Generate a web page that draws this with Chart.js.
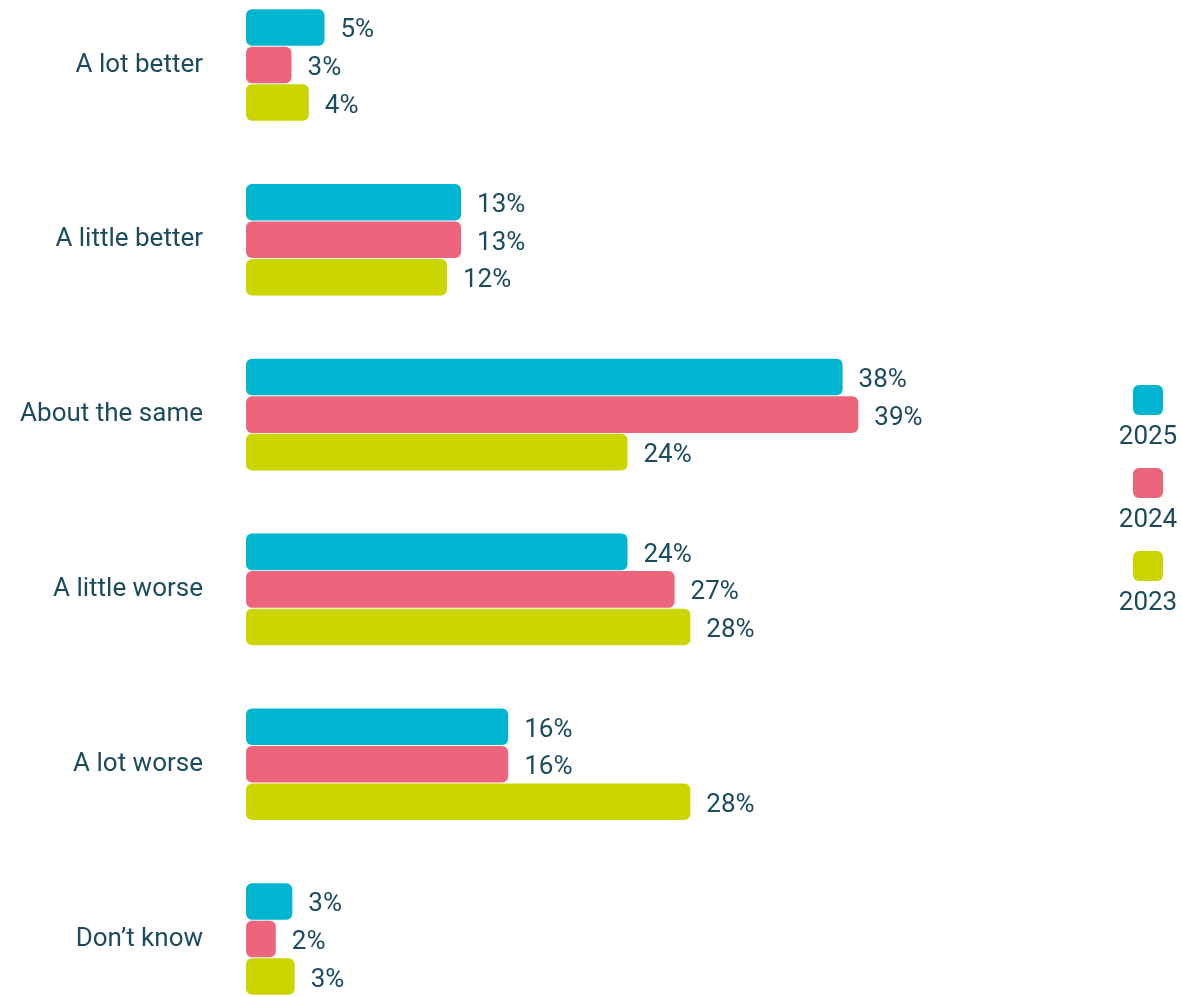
<!DOCTYPE html>
<html>
<head>
<meta charset="utf-8">
<title>Better or worse</title>
<script src="https://cdn.jsdelivr.net/npm/chart.js@4/dist/chart.umd.min.js"></script>
<style>
  html, body { margin: 0; padding: 0; background: #fff; }
  #wrap { width: 1182px; height: 997px; position: relative; }
</style>
</head>
<body>
<div id="wrap"><canvas id="chart"></canvas></div>
<script>
const categories = ["A lot better", "A little better", "About the same", "A little worse", "A lot worse", "Don\u2019t know"];
const years = ["2025", "2024", "2023"];

// bar lengths (labels are the rounded figures shown)
const values2025 = [5.0, 13.7, 38.0, 24.3, 16.7, 2.95];
const values2024 = [2.9, 13.7, 39.0, 27.3, 16.7, 1.9];
const values2023 = [4.0, 12.8, 24.3, 28.3, 28.3, 3.1];

const labels2025 = [5, 13, 38, 24, 16, 3];
const labels2024 = [3, 13, 39, 27, 16, 2];
const labels2023 = [4, 12, 24, 28, 28, 3];

const colors = ["#00b5cf", "#ec657d", "#cbd500"];
const textColor = "#1b4b5c";

Chart.defaults.font.family = "Roboto";

// percent label at the end of each bar
const barLabels = {
  id: "barLabels",
  afterDatasetsDraw(chart) {
    const ctx = chart.ctx;
    ctx.save();
    ctx.font = "26px Roboto";
    ctx.fillStyle = textColor;
    ctx.textAlign = "left";
    ctx.textBaseline = "alphabetic";
    chart.data.datasets.forEach((ds, i) => {
      chart.getDatasetMeta(i).data.forEach((bar, j) => {
        ctx.fillText(ds.shown[j] + "%", bar.x + 16, bar.y + 10);
      });
    });
    ctx.restore();
  }
};

// legend on the right: square above the year
const sideLegend = {
  id: "sideLegend",
  afterDraw(chart) {
    const ctx = chart.ctx;
    const cx = chart.width - 34;
    ctx.save();
    ctx.font = "26px Roboto";
    ctx.textAlign = "center";
    ctx.textBaseline = "alphabetic";
    chart.data.datasets.forEach((ds, i) => {
      const top = 385 + i * 83;
      ctx.fillStyle = ds.backgroundColor;
      ctx.beginPath();
      ctx.roundRect(cx - 15, top, 30, 30, 6);
      ctx.fill();
      ctx.fillStyle = textColor;
      ctx.fillText(ds.label, cx, top + 59);
    });
    ctx.restore();
  }
};

const series = [values2025, values2024, values2023];
const shown = [labels2025, labels2024, labels2023];

new Chart(document.getElementById("chart"), {
  type: "bar",
  data: {
    labels: categories,
    datasets: years.map((y, i) => ({
      label: y,
      data: series[i],
      shown: shown[i],
      backgroundColor: colors[i],
      borderWidth: 0,
      borderRadius: 6,
      borderSkipped: false,
      barPercentage: 0.975,
      categoryPercentage: 0.644,
      clip: false,
    })),
  },
  options: {
    indexAxis: "y",
    responsive: true,
    maintainAspectRatio: false,
    animation: false,
    layout: { padding: { top: 65, bottom: 58, left: 0, right: 308 } },
    plugins: {
      legend: { display: false },
      tooltip: { enabled: false },
    },
    scales: {
      x: {
        display: false,
        min: 0,
        max: 40,
      },
      y: {
        offset: false,
        grid: { display: false },
        border: { display: false },
        ticks: {
          color: textColor,
          font: { size: 26 },
          padding: 35,
        },
        afterFit(scale) {
          scale.width = 246;
        },
      },
    },
  },
  plugins: [barLabels, sideLegend],
});
</script>
</body>
</html>
